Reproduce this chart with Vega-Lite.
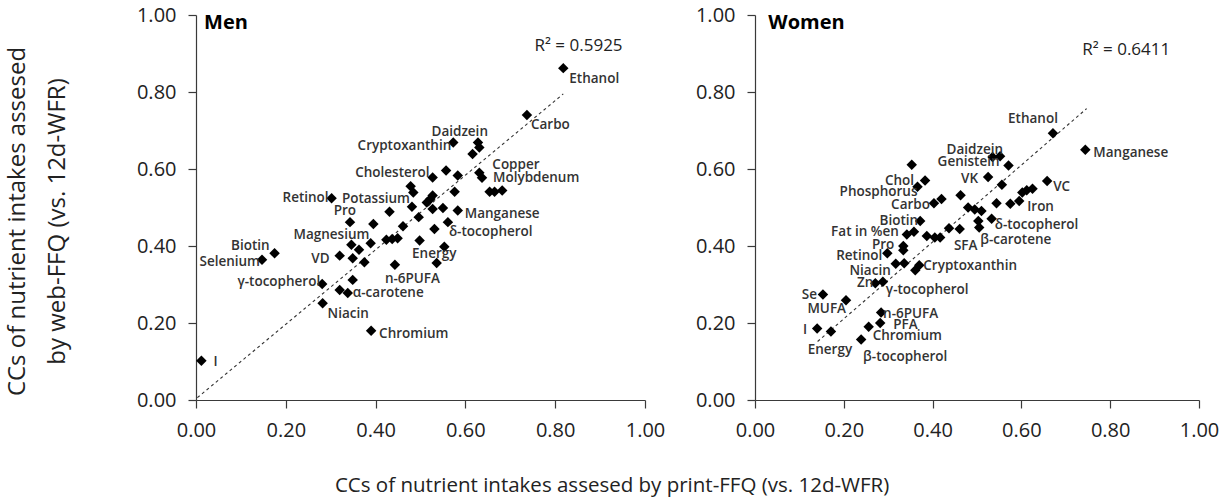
{
  "$schema": "https://vega.github.io/schema/vega-lite/v6.json",
  "padding": 5,
  "config": {
    "font": "Open Sans",
    "view": {"stroke": null},
    "axis": {"grid": false, "domainColor": "#3a3a3a", "tickColor": "#3a3a3a", "domainWidth": 1.2, "tickWidth": 1.2, "tickSize": 8, "labelFontSize": 20, "labelColor": "#222", "labelPadding": 12, "labelFlush": false, "labelOverlap": false, "titleFontSize": 24, "titleFontWeight": "normal", "titleColor": "#222", "titleLineHeight": 40, "titlePadding": 67},
    "text": {"font": "Open Sans", "fontSize": 13.5, "fontWeight": 600, "color": "#333", "baseline": "middle"}
  },
  "datasets": {
    "men": [
      {"x": 0.012, "y": 0.102, "label": "I"},
      {"x": 0.147, "y": 0.364, "label": "Selenium"},
      {"x": 0.175, "y": 0.381, "label": "Biotin"},
      {"x": 0.281, "y": 0.301, "label": "γ-tocopherol"},
      {"x": 0.282, "y": 0.251, "label": "Niacin"},
      {"x": 0.320, "y": 0.286, "label": ""},
      {"x": 0.338, "y": 0.278, "label": "α-carotene"},
      {"x": 0.349, "y": 0.312, "label": ""},
      {"x": 0.320, "y": 0.375, "label": "VD"},
      {"x": 0.349, "y": 0.368, "label": ""},
      {"x": 0.346, "y": 0.403, "label": "Magnesium"},
      {"x": 0.363, "y": 0.390, "label": ""},
      {"x": 0.375, "y": 0.358, "label": ""},
      {"x": 0.389, "y": 0.407, "label": ""},
      {"x": 0.390, "y": 0.180, "label": "Chromium"},
      {"x": 0.343, "y": 0.462, "label": "Pro"},
      {"x": 0.395, "y": 0.457, "label": ""},
      {"x": 0.302, "y": 0.524, "label": "Retinol"},
      {"x": 0.431, "y": 0.489, "label": ""},
      {"x": 0.424, "y": 0.416, "label": ""},
      {"x": 0.437, "y": 0.418, "label": ""},
      {"x": 0.449, "y": 0.420, "label": ""},
      {"x": 0.461, "y": 0.451, "label": ""},
      {"x": 0.443, "y": 0.351, "label": "n-6PUFA"},
      {"x": 0.496, "y": 0.475, "label": ""},
      {"x": 0.498, "y": 0.414, "label": ""},
      {"x": 0.478, "y": 0.555, "label": ""},
      {"x": 0.484, "y": 0.539, "label": ""},
      {"x": 0.481, "y": 0.502, "label": "Potassium"},
      {"x": 0.514, "y": 0.513, "label": ""},
      {"x": 0.527, "y": 0.531, "label": ""},
      {"x": 0.522, "y": 0.522, "label": ""},
      {"x": 0.527, "y": 0.496, "label": ""},
      {"x": 0.527, "y": 0.578, "label": "Cholesterol"},
      {"x": 0.531, "y": 0.444, "label": ""},
      {"x": 0.550, "y": 0.499, "label": ""},
      {"x": 0.553, "y": 0.398, "label": "Energy"},
      {"x": 0.536, "y": 0.356, "label": ""},
      {"x": 0.561, "y": 0.462, "label": "δ-tocopherol"},
      {"x": 0.557, "y": 0.596, "label": ""},
      {"x": 0.583, "y": 0.583, "label": ""},
      {"x": 0.576, "y": 0.541, "label": ""},
      {"x": 0.583, "y": 0.492, "label": "Manganese"},
      {"x": 0.573, "y": 0.669, "label": "Cryptoxanthin"},
      {"x": 0.616, "y": 0.639, "label": ""},
      {"x": 0.631, "y": 0.656, "label": ""},
      {"x": 0.628, "y": 0.669, "label": "Daidzein"},
      {"x": 0.631, "y": 0.590, "label": "Copper"},
      {"x": 0.637, "y": 0.577, "label": "Molybdenum"},
      {"x": 0.654, "y": 0.541, "label": ""},
      {"x": 0.665, "y": 0.541, "label": ""},
      {"x": 0.682, "y": 0.544, "label": ""},
      {"x": 0.737, "y": 0.740, "label": "Carbo"},
      {"x": 0.818, "y": 0.862, "label": "Ethanol"}
    ],
    "women": [
      {"x": 0.671, "y": 0.693, "label": "Ethanol"},
      {"x": 0.744, "y": 0.650, "label": "Manganese"},
      {"x": 0.535, "y": 0.631, "label": "Genistein"},
      {"x": 0.552, "y": 0.633, "label": "Daidzein"},
      {"x": 0.571, "y": 0.609, "label": ""},
      {"x": 0.353, "y": 0.611, "label": ""},
      {"x": 0.525, "y": 0.579, "label": "VK"},
      {"x": 0.556, "y": 0.559, "label": ""},
      {"x": 0.658, "y": 0.569, "label": "VC"},
      {"x": 0.625, "y": 0.549, "label": ""},
      {"x": 0.612, "y": 0.545, "label": ""},
      {"x": 0.602, "y": 0.539, "label": ""},
      {"x": 0.595, "y": 0.517, "label": "Iron"},
      {"x": 0.575, "y": 0.510, "label": ""},
      {"x": 0.544, "y": 0.511, "label": ""},
      {"x": 0.463, "y": 0.532, "label": ""},
      {"x": 0.383, "y": 0.570, "label": "Chol"},
      {"x": 0.366, "y": 0.554, "label": "Phosphorus"},
      {"x": 0.403, "y": 0.511, "label": "Carbo"},
      {"x": 0.420, "y": 0.522, "label": ""},
      {"x": 0.480, "y": 0.500, "label": ""},
      {"x": 0.495, "y": 0.495, "label": ""},
      {"x": 0.510, "y": 0.491, "label": ""},
      {"x": 0.503, "y": 0.465, "label": ""},
      {"x": 0.505, "y": 0.448, "label": "β-carotene"},
      {"x": 0.533, "y": 0.471, "label": "δ-tocopherol"},
      {"x": 0.461, "y": 0.444, "label": "SFA"},
      {"x": 0.437, "y": 0.446, "label": ""},
      {"x": 0.417, "y": 0.422, "label": ""},
      {"x": 0.405, "y": 0.422, "label": ""},
      {"x": 0.387, "y": 0.426, "label": ""},
      {"x": 0.372, "y": 0.465, "label": "Biotin"},
      {"x": 0.358, "y": 0.437, "label": ""},
      {"x": 0.342, "y": 0.430, "label": "Fat in %en"},
      {"x": 0.334, "y": 0.400, "label": "Pro"},
      {"x": 0.334, "y": 0.389, "label": ""},
      {"x": 0.298, "y": 0.381, "label": "Retinol"},
      {"x": 0.317, "y": 0.354, "label": "Niacin"},
      {"x": 0.336, "y": 0.355, "label": ""},
      {"x": 0.370, "y": 0.350, "label": "Cryptoxanthin"},
      {"x": 0.361, "y": 0.337, "label": ""},
      {"x": 0.271, "y": 0.303, "label": "Zn"},
      {"x": 0.288, "y": 0.307, "label": "γ-tocopherol"},
      {"x": 0.153, "y": 0.274, "label": "Se"},
      {"x": 0.205, "y": 0.259, "label": "MUFA"},
      {"x": 0.284, "y": 0.227, "label": "n-6PUFA"},
      {"x": 0.282, "y": 0.200, "label": "PFA"},
      {"x": 0.256, "y": 0.190, "label": "Chromium"},
      {"x": 0.239, "y": 0.157, "label": "β-tocopherol"},
      {"x": 0.140, "y": 0.186, "label": "I"},
      {"x": 0.171, "y": 0.178, "label": "Energy"}
    ],
    "menTrend": [{"x": 0.003, "y": 0.006}, {"x": 0.818, "y": 0.795}],
    "womenTrend": [{"x": 0.141, "y": 0.152}, {"x": 0.747, "y": 0.757}],
    "menNotes": [{"x": 0.018, "y": 0.979, "note": "Men", "kind": "panel"}, {"x": 0.754, "y": 0.919, "note": "R² = 0.5925", "kind": "r2"}],
    "womenNotes": [{"x": 0.03, "y": 0.978, "note": "Women", "kind": "panel"}, {"x": 0.737, "y": 0.909, "note": "R² = 0.6411", "kind": "r2"}]
  },
  "title": {"text": "CCs of nutrient intakes assesed by print-FFQ (vs. 12d-WFR)", "orient": "bottom", "anchor": "middle", "fontSize": 20.5, "fontWeight": "normal", "color": "#222", "font": "Open Sans", "offset": 36},
  "spacing": 30,
  "hconcat": [
    {
      "width": 449,
      "height": 385,
      "encoding": {
        "x": {"field": "x", "type": "quantitative", "scale": {"domain": [0, 1], "nice": false, "zero": false}, "axis": {"values": [0, 0.2, 0.4, 0.6, 0.8, 1], "format": ".2f", "title": null}},
        "y": {"field": "y", "type": "quantitative", "scale": {"domain": [0, 1], "nice": false, "zero": false}, "axis": {"values": [0, 0.2, 0.4, 0.6, 0.8, 1], "format": ".2f", "titleY": 206, "title": ["CCs of nutrient intakes assesed", "by web-FFQ (vs. 12d-WFR)"]}}
      },
      "layer": [
        {"data": {"name": "menTrend"}, "mark": {"type": "line", "strokeDash": [3, 3], "color": "#333", "strokeWidth": 1.1}, "encoding": {}},
        {"data": {"name": "men"}, "mark": {"type": "point", "shape": "diamond", "filled": true, "size": 110, "color": "#000", "opacity": 1}},
        {
          "data": {"name": "men"},
          "encoding": {"text": {"field": "label"}},
          "layer": [
            {"transform": [{"filter": "datum.label==='I'"}], "mark": {"type": "text", "align": "left", "dx": 12, "dy": 1}},
            {"transform": [{"filter": "datum.label==='Selenium'"}], "mark": {"type": "text", "align": "right", "dx": -2, "dy": 2}},
            {"transform": [{"filter": "datum.label==='Biotin'"}], "mark": {"type": "text", "align": "right", "dx": -5, "dy": -7}},
            {"transform": [{"filter": "datum.label==='γ-tocopherol'"}], "mark": {"type": "text", "align": "right", "dx": -2, "dy": -2}},
            {"transform": [{"filter": "datum.label==='Niacin'"}], "mark": {"type": "text", "align": "left", "dx": 5, "dy": 11}},
            {"transform": [{"filter": "datum.label==='α-carotene'"}], "mark": {"type": "text", "align": "left", "dx": 5, "dy": 0}},
            {"transform": [{"filter": "datum.label==='VD'"}], "mark": {"type": "text", "align": "right", "dx": -10, "dy": 3}},
            {"transform": [{"filter": "datum.label==='Magnesium'"}], "mark": {"type": "text", "align": "right", "dx": 18, "dy": -10}},
            {"transform": [{"filter": "datum.label==='Pro'"}], "mark": {"type": "text", "align": "right", "dx": 6, "dy": -11}},
            {"transform": [{"filter": "datum.label==='Retinol'"}], "mark": {"type": "text", "align": "right", "dx": -3, "dy": 0}},
            {"transform": [{"filter": "datum.label==='Potassium'"}], "mark": {"type": "text", "align": "right", "dx": -2, "dy": -8}},
            {"transform": [{"filter": "datum.label==='Cholesterol'"}], "mark": {"type": "text", "align": "right", "dx": -3, "dy": -4}},
            {"transform": [{"filter": "datum.label==='Cryptoxanthin'"}], "mark": {"type": "text", "align": "right", "dx": -2, "dy": 4}},
            {"transform": [{"filter": "datum.label==='Daidzein'"}], "mark": {"type": "text", "align": "right", "dx": 10, "dy": -10}},
            {"transform": [{"filter": "datum.label==='Carbo'"}], "mark": {"type": "text", "align": "left", "dx": 4, "dy": 10}},
            {"transform": [{"filter": "datum.label==='Ethanol'"}], "mark": {"type": "text", "align": "left", "dx": 6, "dy": 11}},
            {"transform": [{"filter": "datum.label==='Copper'"}], "mark": {"type": "text", "align": "left", "dx": 13, "dy": -8}},
            {"transform": [{"filter": "datum.label==='Molybdenum'"}], "mark": {"type": "text", "align": "left", "dx": 11, "dy": 0}},
            {"transform": [{"filter": "datum.label==='Manganese'"}], "mark": {"type": "text", "align": "left", "dx": 7, "dy": 3}},
            {"transform": [{"filter": "datum.label==='δ-tocopherol'"}], "mark": {"type": "text", "align": "left", "dx": 1, "dy": 10}},
            {"transform": [{"filter": "datum.label==='Energy'"}], "mark": {"type": "text", "align": "center", "dx": -10, "dy": 7}},
            {"transform": [{"filter": "datum.label==='n-6PUFA'"}], "mark": {"type": "text", "align": "left", "dx": -10, "dy": 14}},
            {"transform": [{"filter": "datum.label==='Chromium'"}], "mark": {"type": "text", "align": "left", "dx": 8, "dy": 3}}
          ]
        },
        {
          "data": {"name": "menNotes"},
          "encoding": {"text": {"field": "note"}},
          "layer": [
            {"transform": [{"filter": "datum.kind==='panel'"}], "mark": {"type": "text", "align": "left", "fontSize": 20, "fontWeight": "bold", "color": "#000"}},
            {"transform": [{"filter": "datum.kind==='r2'"}], "mark": {"type": "text", "align": "left", "fontSize": 17, "fontWeight": "normal", "color": "#222"}}
          ]
        }
      ]
    },
    {
      "width": 444,
      "height": 385,
      "encoding": {
        "x": {"field": "x", "type": "quantitative", "scale": {"domain": [0, 1], "nice": false, "zero": false}, "axis": {"values": [0, 0.2, 0.4, 0.6, 0.8, 1], "format": ".2f", "title": null}},
        "y": {"field": "y", "type": "quantitative", "scale": {"domain": [0, 1], "nice": false, "zero": false}, "axis": {"values": [0, 0.2, 0.4, 0.6, 0.8, 1], "format": ".2f", "title": null}}
      },
      "layer": [
        {"data": {"name": "womenTrend"}, "mark": {"type": "line", "strokeDash": [3, 3], "color": "#333", "strokeWidth": 1.1}, "encoding": {}},
        {"data": {"name": "women"}, "mark": {"type": "point", "shape": "diamond", "filled": true, "size": 110, "color": "#000", "opacity": 1}},
        {
          "data": {"name": "women"},
          "encoding": {"text": {"field": "label"}},
          "layer": [
            {"transform": [{"filter": "datum.label==='Ethanol'"}], "mark": {"type": "text", "align": "right", "dx": 5, "dy": -14}},
            {"transform": [{"filter": "datum.label==='Manganese'"}], "mark": {"type": "text", "align": "left", "dx": 8, "dy": 3}},
            {"transform": [{"filter": "datum.label==='Daidzein'"}], "mark": {"type": "text", "align": "right", "dx": 3, "dy": -6}},
            {"transform": [{"filter": "datum.label==='Genistein'"}], "mark": {"type": "text", "align": "right", "dx": 7, "dy": 5}},
            {"transform": [{"filter": "datum.label==='VK'"}], "mark": {"type": "text", "align": "right", "dx": -10, "dy": 2}},
            {"transform": [{"filter": "datum.label==='VC'"}], "mark": {"type": "text", "align": "left", "dx": 6, "dy": 6}},
            {"transform": [{"filter": "datum.label==='Iron'"}], "mark": {"type": "text", "align": "left", "dx": 8, "dy": 6}},
            {"transform": [{"filter": "datum.label==='δ-tocopherol'"}], "mark": {"type": "text", "align": "left", "dx": 3, "dy": 6}},
            {"transform": [{"filter": "datum.label==='β-carotene'"}], "mark": {"type": "text", "align": "left", "dx": 1, "dy": 12}},
            {"transform": [{"filter": "datum.label==='SFA'"}], "mark": {"type": "text", "align": "center", "dx": 6, "dy": 17}},
            {"transform": [{"filter": "datum.label==='Chol'"}], "mark": {"type": "text", "align": "right", "dx": -11, "dy": 0}},
            {"transform": [{"filter": "datum.label==='Phosphorus'"}], "mark": {"type": "text", "align": "right", "dx": 0, "dy": 5}},
            {"transform": [{"filter": "datum.label==='Carbo'"}], "mark": {"type": "text", "align": "right", "dx": -4, "dy": 2}},
            {"transform": [{"filter": "datum.label==='Biotin'"}], "mark": {"type": "text", "align": "right", "dx": -2, "dy": 0}},
            {"transform": [{"filter": "datum.label==='Fat in %en'"}], "mark": {"type": "text", "align": "right", "dx": -8, "dy": -2}},
            {"transform": [{"filter": "datum.label==='Pro'"}], "mark": {"type": "text", "align": "right", "dx": -9, "dy": -1}},
            {"transform": [{"filter": "datum.label==='Retinol'"}], "mark": {"type": "text", "align": "right", "dx": -5, "dy": 3}},
            {"transform": [{"filter": "datum.label==='Niacin'"}], "mark": {"type": "text", "align": "right", "dx": -5, "dy": 7}},
            {"transform": [{"filter": "datum.label==='Cryptoxanthin'"}], "mark": {"type": "text", "align": "left", "dx": 4, "dy": 1}},
            {"transform": [{"filter": "datum.label==='Zn'"}], "mark": {"type": "text", "align": "right", "dx": -2, "dy": 0}},
            {"transform": [{"filter": "datum.label==='γ-tocopherol'"}], "mark": {"type": "text", "align": "left", "dx": 3, "dy": 8}},
            {"transform": [{"filter": "datum.label==='Se'"}], "mark": {"type": "text", "align": "right", "dx": -6, "dy": 0}},
            {"transform": [{"filter": "datum.label==='MUFA'"}], "mark": {"type": "text", "align": "right", "dx": 0, "dy": 9}},
            {"transform": [{"filter": "datum.label==='n-6PUFA'"}], "mark": {"type": "text", "align": "left", "dx": 2, "dy": 1}},
            {"transform": [{"filter": "datum.label==='PFA'"}], "mark": {"type": "text", "align": "left", "dx": 13, "dy": 2}},
            {"transform": [{"filter": "datum.label==='Chromium'"}], "mark": {"type": "text", "align": "left", "dx": 4, "dy": 9}},
            {"transform": [{"filter": "datum.label==='β-tocopherol'"}], "mark": {"type": "text", "align": "left", "dx": 2, "dy": 17}},
            {"transform": [{"filter": "datum.label==='I'"}], "mark": {"type": "text", "align": "right", "dx": -10, "dy": 2}},
            {"transform": [{"filter": "datum.label==='Energy'"}], "mark": {"type": "text", "align": "center", "dx": -1, "dy": 19}}
          ]
        },
        {
          "data": {"name": "womenNotes"},
          "encoding": {"text": {"field": "note"}},
          "layer": [
            {"transform": [{"filter": "datum.kind==='panel'"}], "mark": {"type": "text", "align": "left", "fontSize": 20, "fontWeight": "bold", "color": "#000"}},
            {"transform": [{"filter": "datum.kind==='r2'"}], "mark": {"type": "text", "align": "left", "fontSize": 17, "fontWeight": "normal", "color": "#222"}}
          ]
        }
      ]
    }
  ]
}
